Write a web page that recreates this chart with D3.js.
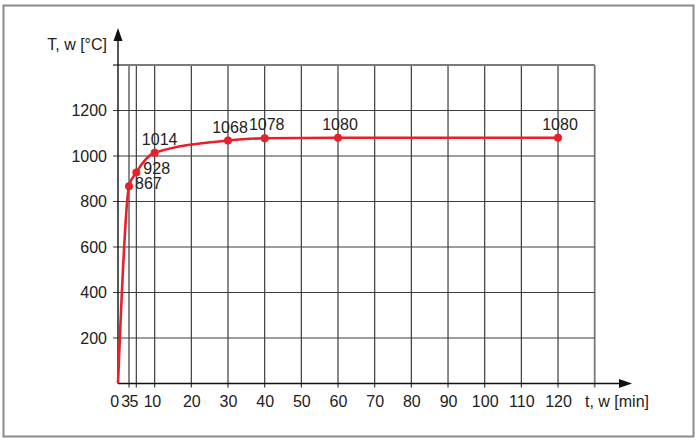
<!DOCTYPE html>
<html>
<head>
<meta charset="UTF-8" />
<title>T, w</title>
<script src="https://cdn.jsdelivr.net/npm/d3@7"></script>
<style>
  body { margin: 0; background: #fff; }
  text { font-family: "Liberation Sans", Arial, sans-serif; fill: #222; }
</style>
</head>
<body>
<svg id="vis" width="700" height="445"></svg>
<script>
  // données
  const times = [0, 3, 5, 10, 30, 40, 60, 120];
  const temps = [0, 867, 928, 1014, 1068, 1078, 1080, 1080];
  const labelled = [1, 2, 3, 4, 5, 6, 7]; // points avec valeur affichee
  const xTicks = [0, 3, 5, 10, 20, 30, 40, 50, 60, 70, 80, 90, 100, 110, 120];
  const xGrid = [3, 5, 10, 20, 30, 40, 50, 60, 70, 80, 90, 100, 110, 120, 130];
  const yTicks = [200, 400, 600, 800, 1000, 1200];
  const yGrid = [200, 400, 600, 800, 1000, 1200, 1400];

  const red = "#e8202a";
  const gridCol = "#3c3c3c";

  const svg = d3.select("#vis");

  // cadre
  svg.append("rect")
    .attr("x", 3.5).attr("y", 5.5).attr("width", 690).attr("height", 431)
    .attr("fill", "none").attr("stroke", "#8a8a8a").attr("stroke-width", 2);

  const x = d3.scaleLinear().domain([0, 130]).range([118, 594.7]);
  const y = d3.scaleLinear().domain([0, 1400]).range([383.5, 65]);

  // grille verticale
  const g = svg.append("g");
  g.selectAll(".vg").data(xGrid).enter().append("line")
    .attr("x1", d => x(d)).attr("x2", d => x(d))
    .attr("y1", y(1400)).attr("y2", y(0) + 4)
    .attr("stroke", d => d === 130 ? "#7a7a7a" : gridCol)
    .attr("stroke-width", d => d === 130 ? 1.8 : 1.2);

  // grille horizontale
  g.selectAll(".hg").data(yGrid).enter().append("line")
    .attr("x1", x(0) - 5).attr("x2", x(130))
    .attr("y1", d => y(d)).attr("y2", d => y(d))
    .attr("stroke", d => d === 1400 ? "#7a7a7a" : gridCol)
    .attr("stroke-width", d => d === 1400 ? 1.8 : 1.2);

  // axes avec fleches
  svg.append("line")
    .attr("x1", x(0)).attr("x2", x(0)).attr("y1", y(0)).attr("y2", 36)
    .attr("stroke", "#111").attr("stroke-width", 1.4);
  svg.append("path")
    .attr("d", `M${x(0)},28 L${x(0) - 4.5},41 L${x(0) + 4.5},41 Z`)
    .attr("fill", "#111");
  svg.append("line")
    .attr("x1", x(0)).attr("x2", 624).attr("y1", y(0)).attr("y2", y(0))
    .attr("stroke", "#111").attr("stroke-width", 1.4);
  svg.append("path")
    .attr("d", `M632,${y(0)} L619,${y(0) - 4.5} L619,${y(0) + 4.5} Z`)
    .attr("fill", "#111");

  // etiquettes des axes
  const xAxis = d3.axisBottom(x).tickValues(xTicks).tickSize(0).tickPadding(12);
  const gx = svg.append("g").attr("transform", `translate(0,${y(0)})`).call(xAxis);
  gx.select(".domain").remove();
  gx.selectAll("text").attr("font-size", 16).attr("fill", "#222")
    .attr("font-family", "Liberation Sans, Arial, sans-serif")
    .attr("letter-spacing", d => d <= 10 ? -0.6 : 0)
    .attr("dx", d => d === 0 ? -4 : d === 3 ? -4 : d === 5 ? -3.3 : d === 10 ? -3 : 0);

  const yAxis = d3.axisLeft(y).tickValues(yTicks).tickFormat(d3.format("d"))
    .tickSize(0).tickPadding(11);
  const gy = svg.append("g").attr("transform", `translate(${x(0)},0)`).call(yAxis);
  gy.select(".domain").remove();
  gy.selectAll("text").attr("font-size", 16).attr("fill", "#222")
    .attr("font-family", "Liberation Sans, Arial, sans-serif");

  svg.append("text").attr("x", 107).attr("y", 50).attr("text-anchor", "end")
    .attr("font-size", 16).text("T, w [°C]");
  svg.append("text").attr("x", 585).attr("y", 407)
    .attr("font-size", 16).text("t, w [min]");

  // courbe
  const pts = times.map((t, i) => [t, temps[i]]);
  const line = d3.line().x(d => x(d[0])).y(d => y(d[1])).curve(d3.curveMonotoneX);
  svg.append("path").datum(pts).attr("d", line)
    .attr("fill", "none").attr("stroke", red).attr("stroke-width", 2.6);

  svg.selectAll(".pt").data(labelled).enter().append("circle")
    .attr("cx", i => x(times[i])).attr("cy", i => y(temps[i])).attr("r", 4)
    .attr("fill", red);

  // valeurs
  svg.selectAll(".lab").data(labelled).enter().append("text")
    .attr("font-size", 16)
    .attr("text-anchor", i => i <= 2 ? "start" : "middle")
    .attr("x", i => x(times[i]) + (i === 1 ? 6 : i === 2 ? 7 : i === 3 ? 5 : 2))
    .attr("y", i => y(temps[i]) + (i === 1 ? 3 : i === 2 ? 2 : -8))
    .text(i => temps[i]);
</script>
</body>
</html>
